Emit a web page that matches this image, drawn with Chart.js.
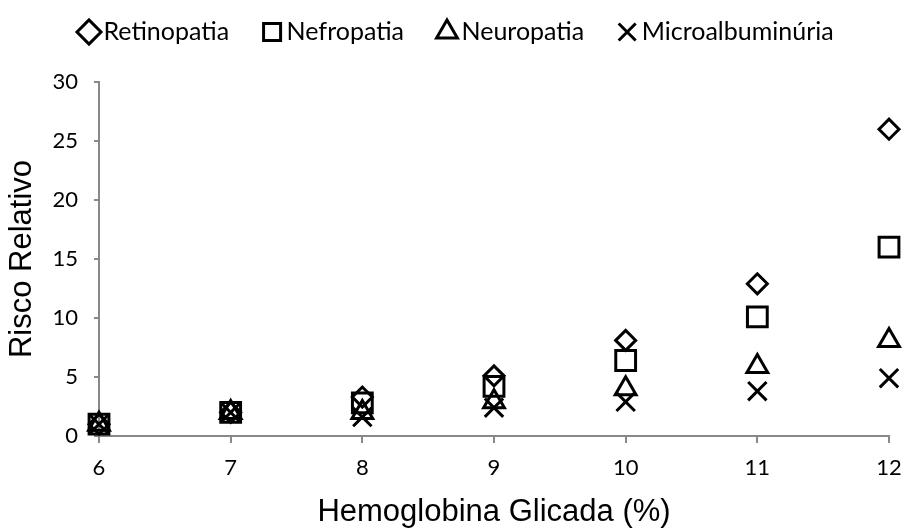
<!DOCTYPE html>
<html>
<head>
<meta charset="utf-8">
<script src="https://cdn.jsdelivr.net/npm/chart.js@4.4.0/dist/chart.umd.min.js"></script>
<style>
  html, body { margin: 0; padding: 0; background: #fff; }
  #wrap { width: 906px; height: 528px; }
</style>
</head>
<body>
<div id="wrap"><canvas id="grafico" width="906" height="528"></canvas></div>
<script>
// dados
const hba1c = [6, 7, 8, 9, 10, 11, 12];
const retinopatia = [1, 2, 3.3, 5.1, 8.1, 12.9, 26];
const nefropatia = [1, 2, 2.8, 4.2, 6.4, 10.1, 16];
const neuropatia = [1, 2, 2.0, 2.9, 4.0, 5.9, 8.1];
const microalbuminuria = [1, 2, 1.6, 2.4, 2.9, 3.8, 4.9];
const yTicks = [0, 5, 10, 15, 20, 25, 30];

const fonteTexto = 'Lato, "Noto Sans", sans-serif';
const fonteTitulo = '"Liberation Sans", Arial, sans-serif';
const cinza = '#888888';
const espacoLegenda = 41;

function serie(label, valores, estilo, raio) {
  return {
    label,
    data: hba1c.map((x, i) => ({ x, y: valores[i] })),
    pointStyle: estilo,
    pointRadius: raio,
    pointHoverRadius: raio,
    borderWidth: 3,
    pointBorderWidth: 3,
    borderColor: '#000',
    backgroundColor: 'rgba(0,0,0,0)',
    pointBorderColor: '#000',
    pointBackgroundColor: 'rgba(0,0,0,0)',
    showLine: false,
    clip: false
  };
}

// posiciona a legenda como no original (mais alta e começando em x=87)
const ajusteLegenda = {
  id: 'ajusteLegenda',
  afterLayout(chart) {
    const lg = chart.legend;
    if (!lg || !lg.lineWidths) return;
    const inicio = (lg.left + espacoLegenda + lg.right - lg.lineWidths[0]) / 2;
    const dx = 87 - inicio;
    lg.left += dx; lg.right += dx;
    const dy = (19.5 - espacoLegenda) - lg.top;
    lg.top += dy; lg.bottom += dy;
  }
};

new Chart(document.getElementById('grafico'), {
  type: 'scatter',
  data: {
    datasets: [
      serie('Retinopatia', retinopatia, 'rectRot', 10),
      serie('Nefropatia', nefropatia, 'rect', 14),
      serie('Neuropatia', neuropatia, 'triangle', 12),
      serie('Microalbuminúria', microalbuminuria, 'crossRot', 13)
    ]
  },
  plugins: [ajusteLegenda],
  options: {
    responsive: false,
    animation: false,
    layout: { padding: { left: 4, right: 17, top: 6, bottom: 0 } },
    plugins: {
      tooltip: { enabled: false },
      legend: {
        position: 'top',
        labels: {
          usePointStyle: true,
          boxWidth: 4,
          boxHeight: 17,
          padding: espacoLegenda,
          color: '#000',
          font: { family: fonteTexto, size: 25 }
        }
      }
    },
    scales: {
      x: {
        type: 'linear',
        min: 6,
        max: 12,
        border: { display: true, color: cinza, width: 2 },
        grid: { display: true, drawOnChartArea: false, drawTicks: true, tickLength: 7, color: cinza, lineWidth: 2 },
        ticks: { stepSize: 1, color: '#000', padding: 12, font: { family: fonteTexto, size: 22 } },
        title: { display: true, text: 'Hemoglobina Glicada (%)', color: '#000', padding: { top: 0, bottom: -3 }, font: { family: fonteTitulo, size: 31 } },
        afterFit: (s) => {
          s.height = 528 - 436;
          s.paddingLeft = 0;
          s.paddingRight = 0;
        }
      },
      y: {
        min: 0,
        max: 30,
        border: { display: true, color: cinza, width: 2 },
        grid: { display: true, drawOnChartArea: false, drawTicks: true, tickLength: 5, color: cinza, lineWidth: 2 },
        ticks: { stepSize: 5, color: '#000', padding: 16, font: { family: fonteTexto, size: 22 } },
        afterBuildTicks: (s) => { s.ticks = yTicks.map(v => ({ value: v })); },
        title: { display: true, text: 'Risco Relativo', color: '#000', padding: { top: 0, bottom: 0 }, font: { family: fonteTitulo, size: 31 } },
        afterFit: (s) => { s.width = 99 - 4; }
      }
    }
  }
});
</script>
</body>
</html>
